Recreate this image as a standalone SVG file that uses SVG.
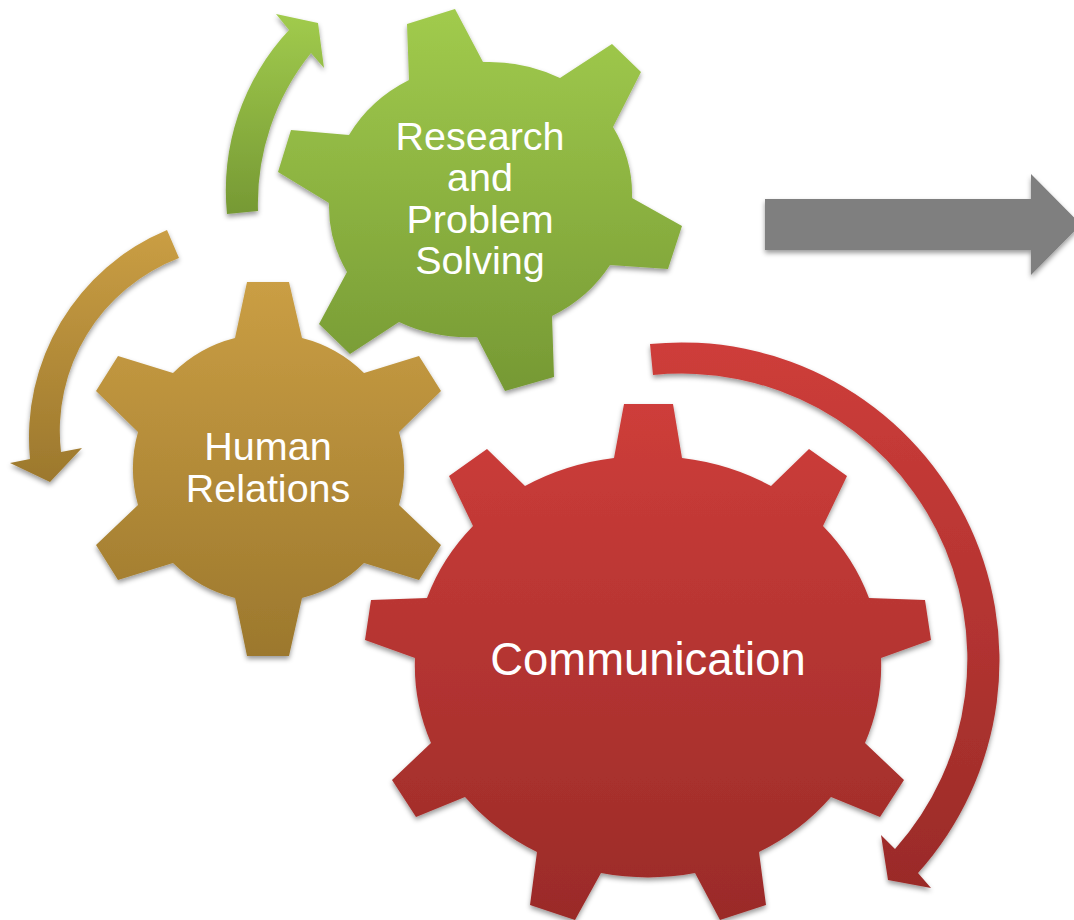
<svg xmlns="http://www.w3.org/2000/svg" width="1074" height="920" viewBox="0 0 1074 920">
<defs>
<linearGradient id="gG" x1="0" y1="0" x2="0" y2="1"><stop offset="0" stop-color="#a1cb4d"/><stop offset="1" stop-color="#769934"/></linearGradient>
<linearGradient id="gY" x1="0" y1="0" x2="0" y2="1"><stop offset="0" stop-color="#ca9e44"/><stop offset="1" stop-color="#9c782d"/></linearGradient>
<linearGradient id="gR" x1="0" y1="0" x2="0" y2="1"><stop offset="0" stop-color="#ce3d3a"/><stop offset="1" stop-color="#9a2b28"/></linearGradient>
<filter id="sh" x="-10%" y="-10%" width="120%" height="120%"><feDropShadow dx="0" dy="3" stdDeviation="2.500" flood-color="#000" flood-opacity="0.4"/></filter>
</defs>
<style>
.s{filter:url(#sh)}
.g{fill:url(#gG)}.y{fill:url(#gY)}.r{fill:url(#gR)}
text{font-family:"Liberation Sans",Arial,sans-serif;fill:#fff;text-anchor:middle;font-size:39.500px}
</style>
<rect width="1074" height="920" fill="#fff"/>
<g id="connectors">
<path class="s" fill="#7f7f7f" d="M765 199H1031V174L1081 224.500L1031 275V250H765Z"/>
<path class="s g" d="M227 214A235 235 0 0 1 289 30L276 14L318 23L324 68L311 53A240 240 0 0 0 258 211Z"/>
<path class="s y" d="M167 230A225 225 0 0 0 30 459L10 463L50 482L82 448L61 452A185 185 0 0 1 179 258Z"/>
<path class="s r" d="M650 344A318 318 0 0 1 918 873L931 888L888 880L881 835L895 849A285.500 285.500 0 0 0 653 375Z"/>
</g>
<g id="human-relations">
<path class="s y" d="M235 338L247 282H289L302 338A135 135 0 0 1 364 373L419 356L441 391L399 432A135 135 0 0 1 399 505L441 545L419 580L364 563A135 135 0 0 1 302 598L289 656H247L235 598A135 135 0 0 1 173 563L118 580L96 545L138 505A135 135 0 0 1 138 432L96 391L118 356L173 373A135 135 0 0 1 235 338Z"/>
<text x="268" y="460">Human</text><text x="268" y="501.500">Relations</text>
</g>
<g id="research">
<path class="s g" d="M409 80L407 24L455 9L483 62A151 138 0 0 1 560 78L612 44L641 72L613 127A151 138 0 0 1 632 198L682 226L668 269L610 265A151 138 0 0 1 552 316L554 377L505 391L477 337A151 138 0 0 1 399 322L350 354L319 324L347 272A151 138 0 0 1 329 203L278 172L291 130L349 135A151 138 0 0 1 409 80Z"/>
<text x="480" y="149.500">Research</text><text x="480" y="191">and</text><text x="480" y="232.500">Problem</text><text x="480" y="274">Solving</text>
</g>
<g id="communication">
<path class="s r" d="M614 458L624 404H673L682 458A233 211 0 0 1 771 486L809 449L847 476L823 526A233 211 0 0 1 869 598L925 600L931 640L881 658A233 211 0 0 1 865 743L904 780L880 817L831 797A233 211 0 0 1 759 852L766 905L720 920L695 873A233 211 0 0 1 601 873L575 920L530 905L537 852A233 211 0 0 1 465 797L416 817L392 780L431 743A233 211 0 0 1 415 658L365 640L371 600L427 598A233 211 0 0 1 473 526L449 476L487 449L525 486A233 211 0 0 1 614 458Z"/>
<text x="648" y="675" style="font-size:45.400px">Communication</text>
</g>
</svg>
